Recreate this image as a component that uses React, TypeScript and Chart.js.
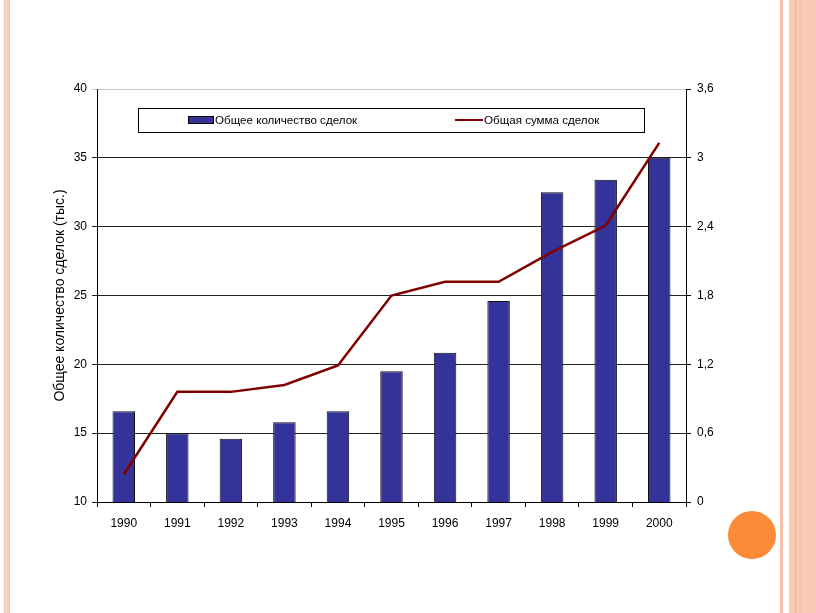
import React, { useEffect, useRef } from "react";
import { Chart, registerables } from "chart.js";

Chart.register(...registerables);

const years = ["1990", "1991", "1992", "1993", "1994", "1995", "1996", "1997", "1998", "1999", "2000"];
const dealCount = [16.6, 15.0, 14.6, 15.8, 16.6, 19.5, 20.85, 24.6, 32.5, 33.4, 35.0];
const dealSum = [0.24, 0.96, 0.96, 1.02, 1.19, 1.8, 1.92, 1.92, 2.18, 2.41, 3.13];
const leftTicks = [10, 15, 20, 25, 30, 35, 40];
const rightTicks = [0, 0.6, 1.2, 1.8, 2.4, 3.0, 3.6];
const countLabel = "Общее количество сделок";
const sumLabel = "Общая сумма сделок";
const yTitle = "Общее количество сделок (тыс.)";

const FONT = 'Arial, "Liberation Sans", sans-serif';
const BAR = "#333399";
const LINE = "#800000";

const legendPlugin = {
  id: "insideLegend",
  afterDraw(chart: any) {
    const { ctx, chartArea } = chart;
    const x0 = chartArea.left + 41;
    const y0 = chartArea.top + 19;
    const w = 506;
    const h = 24;
    ctx.save();
    ctx.fillStyle = "#fff";
    ctx.fillRect(x0, y0, w, h);
    ctx.strokeStyle = "#000";
    ctx.lineWidth = 1;
    ctx.strokeRect(x0 + 0.5, y0 + 0.5, w, h);
    const cy = y0 + 12;
    ctx.fillStyle = BAR;
    ctx.fillRect(x0 + 50, cy - 4, 25, 7);
    ctx.strokeStyle = "#000";
    ctx.strokeRect(x0 + 50.5, cy - 3.5, 25, 7);
    ctx.font = `11.6px ${FONT}`;
    ctx.fillStyle = "#000";
    ctx.textBaseline = "middle";
    ctx.textAlign = "left";
    ctx.fillText(countLabel, x0 + 77, cy + 1);
    ctx.strokeStyle = LINE;
    ctx.lineWidth = 2;
    ctx.beginPath();
    ctx.moveTo(x0 + 317, cy);
    ctx.lineTo(x0 + 345, cy);
    ctx.stroke();
    ctx.fillText(sumLabel, x0 + 346, cy + 1);
    ctx.restore();
  },
};

function fmt(v: number) {
  return String(Number(v.toFixed(1))).replace(".", ",");
}

export default function App() {
  const ref = useRef<HTMLCanvasElement | null>(null);
  useEffect(() => {
    if (!ref.current) return;
    const chart = new Chart(ref.current, {
      type: "bar",
      data: {
        labels: years,
        datasets: [
          {
            type: "line",
            label: sumLabel,
            data: dealSum,
            yAxisID: "y1",
            borderColor: LINE,
            borderWidth: 2.5,
            pointRadius: 0,
            tension: 0,
            order: 0,
          } as any,
          {
            type: "bar",
            label: countLabel,
            data: dealCount,
            yAxisID: "y",
            backgroundColor: BAR,
            borderColor: "#111",
            borderWidth: 1,
            barPercentage: 0.42,
            categoryPercentage: 1,
            order: 1,
          },
        ],
      },
      options: {
        responsive: false,
        animation: false,
        layout: { padding: { top: 89, left: 0, right: 0, bottom: 0 } },
        plugins: { legend: { display: false }, tooltip: { enabled: false } },
        scales: {
          x: {
            type: "category",
            offset: true,
            grid: { offset: true, drawOnChartArea: false, tickLength: 5, color: "#000" },
            border: { display: true, color: "#000", width: 1 },
            ticks: { font: { family: FONT, size: 12 }, color: "#000", padding: 9, maxRotation: 0 },
            afterFit: (s: any) => { s.height = 111; },
          },
          y: {
            type: "linear",
            position: "left",
            min: 10,
            max: 40,
            afterBuildTicks: (s: any) => { s.ticks = leftTicks.map((v) => ({ value: v })); },
            grid: {
              color: (c: any) => (c.tick && c.tick.value === 40 ? "#c8c8c8" : "#222"),
              tickLength: 5,
              lineWidth: 1,
            },
            border: { display: true, color: "#000", width: 1 },
            ticks: { font: { family: FONT, size: 12 }, color: "#000", padding: 5 },
            title: {
              display: true,
              text: yTitle,
              font: { family: FONT, size: 14 },
              color: "#000",
              padding: { top: 52, bottom: 0 },
            },
            afterFit: (s: any) => { s.width = 97; },
          },
          y1: {
            type: "linear",
            position: "right",
            min: 0,
            max: 3.6,
            afterBuildTicks: (s: any) => { s.ticks = rightTicks.map((v) => ({ value: v })); },
            grid: { drawOnChartArea: false, tickLength: 5, color: "#000" },
            border: { display: true, color: "#000", width: 1 },
            ticks: {
              font: { family: FONT, size: 12 },
              color: "#000",
              padding: 6,
              callback: (v: any) => fmt(Number(v)),
            },
            afterFit: (s: any) => { s.width = 130; },
          },
        },
      },
      plugins: [legendPlugin],
    });
    return () => chart.destroy();
  }, []);

  const stripe = (left: number, width: number, color: string) => (
    <div style={{ position: "absolute", left, top: 0, width, height: 613, background: color }} />
  );

  return (
    <div style={{ position: "fixed", left: 0, top: 0, width: 816, height: 613, background: "#fff", overflow: "hidden" }}>
      {stripe(4, 6, "#fbc6b2")}
      {stripe(6, 1, "#fde3d8")}
      {stripe(780, 3, "#f9c2ad")}
      {stripe(789, 27, "#fcc9b5")}
      {stripe(795, 1, "#f4b093")}
      {stripe(801, 1, "#f6b89f")}
      <div style={{ position: "absolute", left: 728, top: 511, width: 48, height: 48, borderRadius: "50%", background: "#fd8a37" }} />
      <canvas ref={ref} width={816} height={613} style={{ position: "absolute", left: 0, top: 0 }} />
    </div>
  );
}
